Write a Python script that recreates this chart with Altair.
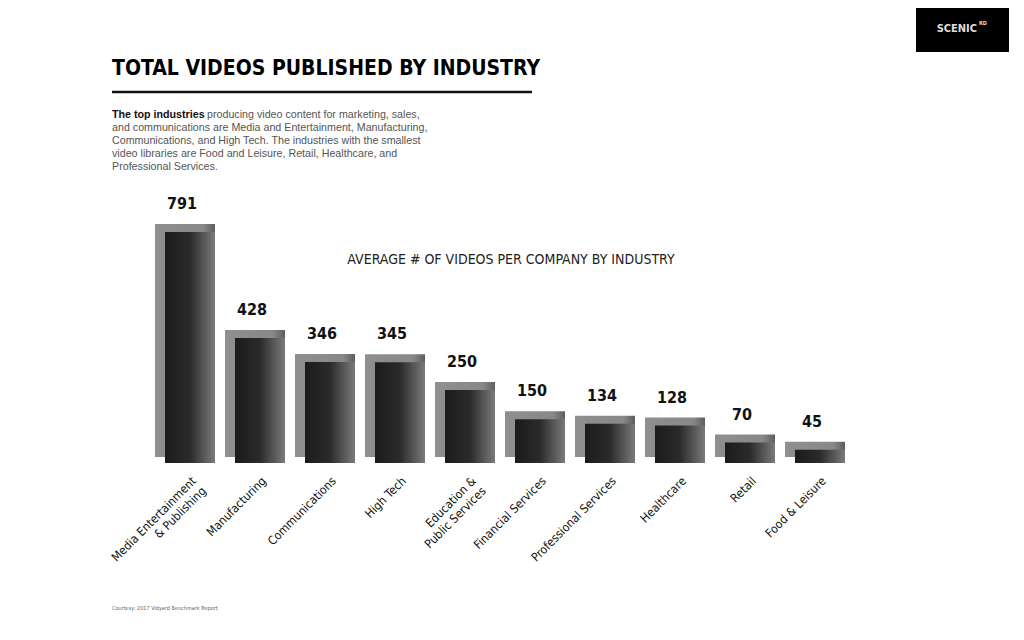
import altair as alt
import pandas as pd

# ---- data ----
industries = [
    "Media Entertainment & Publishing", "Manufacturing", "Communications", "High Tech",
    "Education & Public Services", "Financial Services", "Professional Services",
    "Healthcare", "Retail", "Food & Leisure",
]
tick_labels = [
    "Media Entertainment\n& Publishing", "Manufacturing", "Communications", "High Tech",
    "Education &\nPublic Services", "Financial Services", "Professional Services",
    "Healthcare", "Retail", "Food & Leisure",
]
avg_videos = [791, 428, 346, 345, 250, 150, 134, 128, 70, 45]

title_text = "TOTAL VIDEOS PUBLISHED BY INDUSTRY"
intro_bold = "The top industries"
intro_line1 = "producing video content for marketing, sales,"
intro_rest = [
    "and communications are Media and Entertainment, Manufacturing,",
    "Communications, and High Tech. The industries with the smallest",
    "video libraries are Food and Leisure, Retail, Healthcare, and",
    "Professional Services.",
]
subtitle_text = "AVERAGE # OF VIDEOS PER COMPANY BY INDUSTRY"
source_text = "Courtesy:  2017 Vidyard Benchmark Report"
logo_text = "SCENIC"
logo_sup = "RD"

COND = "'DejaVu Sans Condensed', 'Liberation Sans Narrow', sans-serif"
BODY = "'Liberation Sans', Arial, sans-serif"

df = pd.DataFrame({"industry": industries, "label": tick_labels, "value": avg_videos})

x = alt.X("industry:N", sort=industries, axis=None,
          scale=alt.Scale(domain=industries, range=[147, 847], paddingInner=0, paddingOuter=0))
y = alt.Y("value:Q", axis=None, scale=alt.Scale(domain=[0, 800], range=[455, 221.3]))

base = alt.Chart(df)

side = base.mark_bar(
    width=60, xOffset=-5, yOffset=-8, y2Offset=-6,
    color=alt.LinearGradient(gradient="linear", x1=0, x2=1, y1=0, y2=0,
                             stops=[alt.GradientStop(color="#8f8f8f", offset=0),
                                    alt.GradientStop(color="#888888", offset=0.8),
                                    alt.GradientStop(color="#5e5e5e", offset=1)]),
).encode(x=x, y=y, y2=alt.datum(0))

front = base.mark_bar(
    width=50,
    color=alt.LinearGradient(gradient="linear", x1=0, x2=1, y1=0, y2=0,
                             stops=[alt.GradientStop(color="#1b1b1b", offset=0),
                                    alt.GradientStop(color="#2b2b2b", offset=0.5),
                                    alt.GradientStop(color="#7a7a7a", offset=1)]),
).encode(x=x, y=y, y2=alt.datum(0))

values_txt = base.mark_text(
    dx=-8, dy=-23, baseline="alphabetic", align="center",
    font=COND, fontSize=16, fontWeight="bold", color="#111111",
).encode(x=x, y=y, text=alt.Text("value:Q"))

xlabels = base.mark_text(
    angle=315, align="right", baseline="middle", lineBreak="\n",
    xOffset=4, yOffset=16, font=COND, fontSize=12, color="#111111",
).encode(x=x, y=alt.datum(0), text="label:N")

def txt(s, px, py, **kw):
    return alt.Chart(pd.DataFrame({"t": [s]})).mark_text(**kw).encode(
        text="t:N", x=alt.value(px), y=alt.value(py))

title = txt(title_text, 104, 67, align="left", baseline="alphabetic",
            font=COND, fontSize=21, fontWeight="bold", color="#000000")
underline = alt.Chart(pd.DataFrame({"t": [0]})).mark_rule(
    strokeWidth=2.5, color="#111111").encode(
    x=alt.value(104), x2=alt.value(524), y=alt.value(84))
p_bold = txt(intro_bold, 104, 110, align="left", baseline="alphabetic",
             font=BODY, fontSize=10.7, fontWeight="bold", color="#111111")
p_line1 = txt(intro_line1, 199, 110, align="left", baseline="alphabetic",
              font=BODY, fontSize=10.7, color="#555555")
p_rest = txt("\n".join(intro_rest), 104, 123, align="left", baseline="alphabetic",
             lineBreak="\n", lineHeight=13, font=BODY, fontSize=10.7, color="#555555")
subtitle = txt(subtitle_text, 503, 256, align="center", baseline="alphabetic",
               font=COND, fontSize=14, color="#222222")
source = txt(source_text, 104, 602, align="left", baseline="alphabetic",
             font=COND, fontSize=5.5, color="#666666")

logo_box = alt.Chart(pd.DataFrame({"t": [0]})).mark_rect(color="#000000").encode(
    x=alt.value(908), x2=alt.value(1001), y=alt.value(0), y2=alt.value(44))
logo1 = txt(logo_text, 969, 24, align="right", baseline="alphabetic",
            font=COND, fontSize=11, fontWeight="bold", color="#dddddd")
logo2 = txt(logo_sup, 971, 17, align="left", baseline="alphabetic",
            font=COND, fontSize=5.5, fontWeight="bold", color="#dddddd")

chart = alt.layer(
    side, front, values_txt, xlabels,
    title, underline, p_bold, p_line1, p_rest, subtitle, source,
    logo_box, logo1, logo2,
).properties(
    width=1008, height=624, autosize=alt.AutoSizeParams(type="none"), padding=0,
    background="#ffffff",
).configure_view(stroke=None)

chart.save("out.html", embed_options={"renderer": "svg", "actions": False})
